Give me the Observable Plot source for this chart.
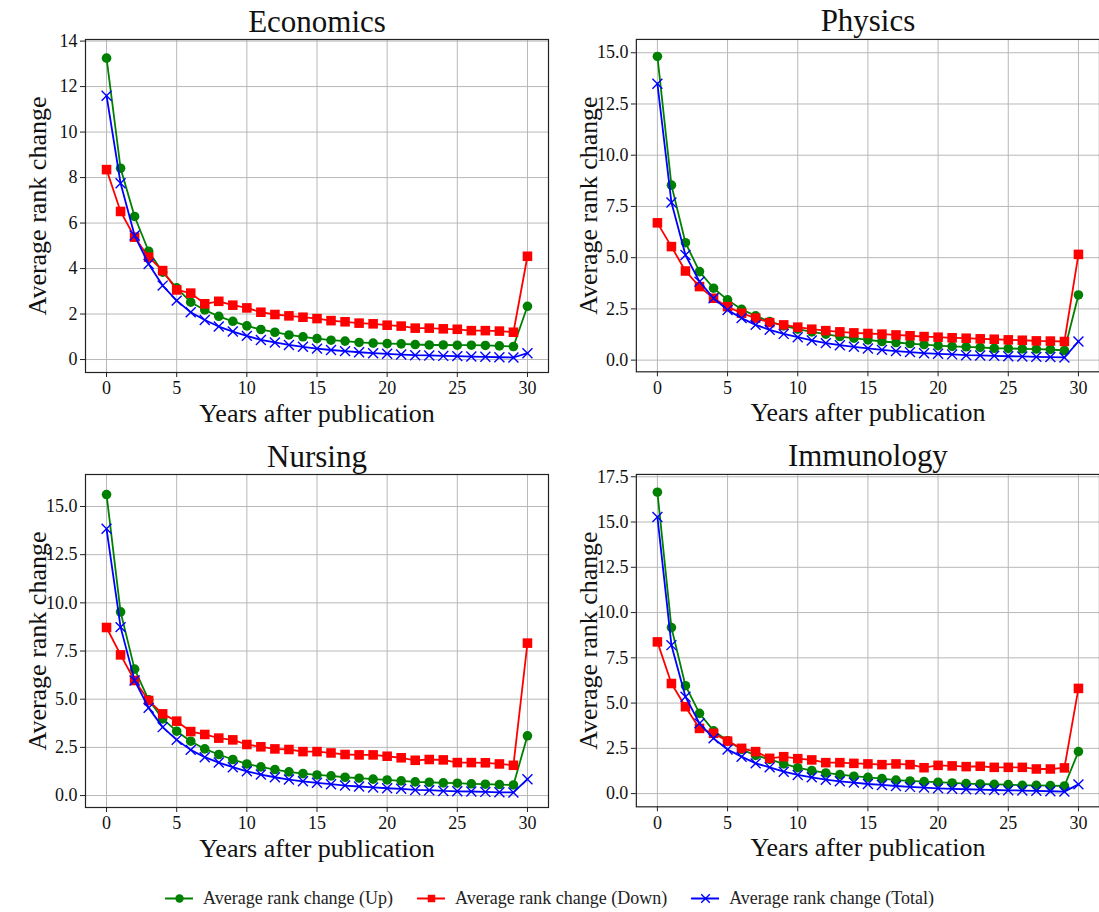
<!DOCTYPE html>
<html>
<head>
<meta charset="utf-8">
<script src="https://cdn.jsdelivr.net/npm/d3@7"></script>
<script src="https://cdn.jsdelivr.net/npm/@observablehq/plot@0.6"></script>
<style>
  html, body { margin: 0; padding: 0; background: #fff; overflow: hidden; }
  #page { position: relative; width: 1099px; height: 912px; font-family: "Liberation Serif", "DejaVu Serif", serif; }
  .panel { position: absolute; }
  .panel svg text { font-family: "Liberation Serif", "DejaVu Serif", serif; }
  #legend { position: absolute; left: 0; top: 884px; width: 1099px; height: 28px; display: flex; justify-content: center; align-items: center; font-size: 18px; color: #222; }
  .item { display: flex; align-items: center; margin: 0 12px; }
  .item svg { margin-right: 10px; }
</style>
</head>
<body>
<div id="page"><div id="legend"></div></div>
<script>
// ---- data ----
const years = [0,1,2,3,4,5,6,7,8,9,10,11,12,13,14,15,16,17,18,19,20,21,22,23,24,25,26,27,28,29,30];
const xTicks = [0,5,10,15,20,25,30];

const econUp    = [13.25,8.41,6.29,4.76,3.84,3.15,2.52,2.18,1.90,1.68,1.48,1.32,1.20,1.08,1.00,0.92,0.85,0.81,0.75,0.72,0.70,0.69,0.66,0.64,0.64,0.63,0.63,0.62,0.60,0.57,2.34];
const econDown  = [8.35,6.51,5.38,4.50,3.91,3.06,2.92,2.45,2.56,2.39,2.27,2.08,1.98,1.92,1.86,1.80,1.71,1.66,1.60,1.57,1.51,1.47,1.38,1.38,1.35,1.33,1.27,1.27,1.25,1.20,4.54];
const econTotal = [11.60,7.75,5.45,4.20,3.25,2.59,2.08,1.74,1.45,1.23,1.04,0.86,0.75,0.64,0.56,0.48,0.42,0.37,0.32,0.28,0.25,0.22,0.19,0.18,0.16,0.15,0.13,0.12,0.10,0.09,0.28];

const physUp    = [14.82,8.54,5.73,4.32,3.51,2.94,2.48,2.16,1.88,1.67,1.51,1.38,1.27,1.15,1.07,0.99,0.91,0.86,0.81,0.76,0.71,0.67,0.65,0.62,0.58,0.57,0.55,0.54,0.52,0.47,3.18];
const physDown  = [6.70,5.54,4.35,3.59,3.02,2.61,2.29,2.05,1.83,1.72,1.61,1.51,1.44,1.38,1.33,1.30,1.27,1.23,1.19,1.15,1.12,1.09,1.07,1.04,1.02,0.99,0.97,0.94,0.93,0.91,5.16];
const physTotal = [13.49,7.69,5.13,3.83,3.02,2.45,2.05,1.72,1.48,1.28,1.12,0.96,0.83,0.73,0.65,0.57,0.50,0.44,0.39,0.34,0.31,0.28,0.24,0.23,0.21,0.19,0.18,0.16,0.15,0.13,0.91];

const nursUp    = [15.62,9.53,6.56,4.97,3.98,3.34,2.82,2.42,2.13,1.87,1.64,1.49,1.35,1.23,1.14,1.07,1.02,0.95,0.90,0.85,0.81,0.76,0.71,0.69,0.66,0.64,0.61,0.59,0.57,0.55,3.10];
const nursDown  = [8.72,7.30,5.97,4.93,4.24,3.86,3.32,3.17,2.98,2.89,2.65,2.53,2.42,2.39,2.28,2.28,2.21,2.13,2.11,2.11,2.04,1.96,1.83,1.87,1.85,1.71,1.71,1.70,1.64,1.57,7.91];
const nursTotal = [13.84,8.74,5.97,4.55,3.55,2.89,2.37,1.99,1.71,1.47,1.26,1.09,0.95,0.83,0.74,0.66,0.59,0.52,0.47,0.42,0.38,0.35,0.29,0.28,0.24,0.22,0.21,0.19,0.17,0.16,0.85];

const immuUp    = [16.65,9.17,5.96,4.43,3.47,2.92,2.44,2.11,1.89,1.64,1.43,1.27,1.14,1.05,0.96,0.90,0.83,0.75,0.70,0.66,0.63,0.59,0.55,0.53,0.51,0.50,0.46,0.46,0.44,0.42,2.32];
const immuDown  = [8.38,6.08,4.80,3.60,3.33,2.90,2.50,2.32,1.95,2.04,1.93,1.86,1.71,1.71,1.67,1.64,1.60,1.64,1.60,1.43,1.56,1.53,1.49,1.51,1.45,1.45,1.45,1.36,1.36,1.42,5.81];
const immuTotal = [15.28,8.20,5.35,3.88,3.05,2.44,2.04,1.67,1.45,1.21,1.03,0.90,0.77,0.68,0.61,0.53,0.48,0.42,0.37,0.33,0.29,0.26,0.24,0.22,0.20,0.18,0.17,0.15,0.13,0.11,0.51];

const titles = ["Economics", "Physics", "Nursing", "Immunology"];
const seriesNames = ["Average rank change (Up)", "Average rank change (Down)", "Average rank change (Total)"];
const seriesColors = ["green", "red", "blue"];
const seriesSymbols = ["circle", "square", "times"];
const xLabel = "Years after publication";
const yLabel = "Average rank change";
const ticksEcon = [0,2,4,6,8,10,12,14];
const ticksPhys = [0,2.5,5,7.5,10,12.5,15];
const ticksNurs = [0,2.5,5,7.5,10,12.5,15];
const ticksImmu = [0,2.5,5,7.5,10,12.5,15,17.5];

// ---- drawing ----
const serif = "Liberation Serif";
function rows(vals) { return years.map((y, i) => ({year: y, v: vals[i]})); }

function seriesMarks(vals, k) {
  const d = rows(vals);
  const marks = [Plot.line(d, {x: "year", y: "v", stroke: seriesColors[k], strokeWidth: 1.8})];
  if (seriesSymbols[k] === "times") {
    marks.push(Plot.dot(d, {x: "year", y: "v", symbol: "times", r: 4.6, stroke: seriesColors[k], strokeWidth: 1.4, fill: "none"}));
  } else if (seriesSymbols[k] === "square") {
    marks.push(Plot.dot(d, {x: "year", y: "v", symbol: "square", r: 5.4, fill: seriesColors[k], stroke: "none"}));
  } else {
    marks.push(Plot.dot(d, {x: "year", y: "v", symbol: "circle", r: 4.8, fill: seriesColors[k], stroke: "none"}));
  }
  return marks;
}

function panel(title, up, down, total, yDomain, yTicks, yFmt, left, top, mL, mR) {
  const chart = Plot.plot({
    width: 550, height: 435,
    marginLeft: mL, marginRight: mR, marginTop: 39, marginBottom: 63,
    style: {fontFamily: serif, fontSize: "18px", color: "#111", background: "transparent", overflow: "visible"},
    x: {domain: [-1.5, 31.5]},
    y: {domain: yDomain},
    marks: [
      Plot.gridX(xTicks, {stroke: "#b8b8b8", strokeOpacity: 1, strokeWidth: 1}),
      Plot.gridY(yTicks, {stroke: "#b8b8b8", strokeOpacity: 1, strokeWidth: 1}),
      Plot.axisX(xTicks, {tickSize: 5, tickPadding: 4, fontSize: 18, fontFamily: serif, label: null, stroke: "#222"}),
      Plot.axisY(yTicks, {tickSize: 5, tickPadding: 3, fontSize: 18, fontFamily: serif, label: null, tickFormat: yFmt, stroke: "#222"}),
      ...seriesMarks(up, 0),
      ...seriesMarks(down, 1),
      ...seriesMarks(total, 2),
      Plot.frame({stroke: "#222", strokeWidth: 1.2}),
      Plot.text([title], {frameAnchor: "top", dy: -8, lineAnchor: "bottom", fontSize: 31, fontFamily: serif, fill: "#111"}),
      Plot.text([xLabel], {frameAnchor: "bottom", dy: 49, lineAnchor: "bottom", fontSize: 26, fontFamily: serif, fill: "#111"}),
      Plot.text([yLabel], {frameAnchor: "left", dx: -48, rotate: -90, textAnchor: "middle", lineAnchor: "middle", fontSize: 26, fontFamily: serif, fill: "#111"})
    ]
  });
  const div = document.createElement("div");
  div.className = "panel";
  div.style.left = left + "px";
  div.style.top = top + "px";
  div.appendChild(chart);
  document.getElementById("page").appendChild(div);
}

const f1 = d3.format(".1f");
const f0 = d3.format("d");
panel(titles[0], econUp, econDown, econTotal, [-0.57, 14.07], ticksEcon, f0, 0, 0, 85, 2);
panel(titles[1], physUp, physDown, physTotal, [-0.57, 15.65], ticksPhys, f1, 550, 0, 86, 0);
panel(titles[2], nursUp, nursDown, nursTotal, [-0.62, 16.66], ticksNurs, f1, 0, 435, 85, 2);
panel(titles[3], immuUp, immuDown, immuTotal, [-0.73, 17.63], ticksImmu, f1, 550, 435, 86, 0);

// ---- legend ----
const legend = document.getElementById("legend");
seriesNames.forEach((name, k) => {
  const item = document.createElement("div");
  item.className = "item";
  const sw = Plot.plot({
    width: 28, height: 16, margin: 0,
    x: {domain: [0, 28], axis: null}, y: {domain: [0, 1], axis: null},
    style: {background: "transparent"},
    marks: [
      Plot.line([{x: 0, y: 0.5}, {x: 28, y: 0.5}], {x: "x", y: "y", stroke: seriesColors[k], strokeWidth: 1.8}),
      seriesSymbols[k] === "times"
        ? Plot.dot([{x: 14, y: 0.5}], {x: "x", y: "y", symbol: "times", r: 4, stroke: seriesColors[k], strokeWidth: 1.4})
        : Plot.dot([{x: 14, y: 0.5}], {x: "x", y: "y", symbol: seriesSymbols[k], r: 4.2, fill: seriesColors[k]})
    ]
  });
  item.appendChild(sw);
  const t = document.createElement("span");
  t.textContent = name;
  item.appendChild(t);
  legend.appendChild(item);
});
</script>
</body>
</html>
